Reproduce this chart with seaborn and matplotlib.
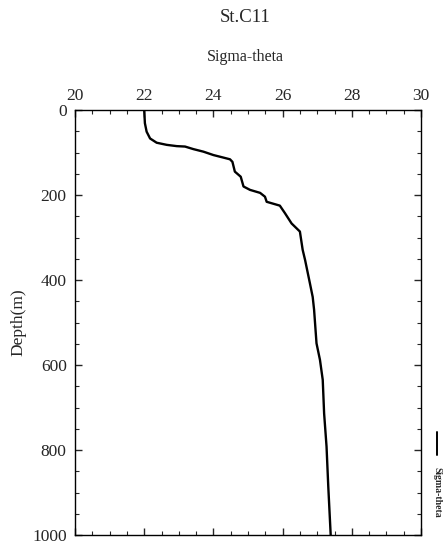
import matplotlib
matplotlib.use("Agg")
import matplotlib.pyplot as plt
import seaborn as sns
import pandas as pd
from matplotlib.ticker import MultipleLocator

depth = [0, 31, 51, 67, 77, 82, 85, 86, 92, 98, 106, 112, 116, 122, 145, 157, 180, 188, 195, 204,
         216, 225, 243, 267, 286, 329, 353, 408, 440, 470, 549, 588, 635, 714, 792, 886, 1000]
sigma = [22.0, 22.02, 22.07, 22.17, 22.36, 22.65, 22.94, 23.18, 23.42, 23.71, 24.0, 24.29, 24.48,
         24.55, 24.62, 24.79, 24.87, 25.06, 25.35, 25.49, 25.54, 25.92, 26.07, 26.26, 26.5, 26.58,
         26.65, 26.79, 26.87, 26.91, 26.98, 27.08, 27.16, 27.2, 27.27, 27.32, 27.39]
x_ticks = [20, 22, 24, 26, 28, 30]
y_ticks = [0, 200, 400, 600, 800, 1000]

sns.set_style("ticks")
plt.rcParams['font.family'] = ['Liberation Serif', 'DejaVu Serif']

df = pd.DataFrame({"Sigma-theta": sigma, "Depth": depth})

fig = plt.figure(figsize=(4.44, 5.47), dpi=100)
ax = fig.add_axes([75/444, 1-535/547, (421-75)/444, (535-110)/547])
sns.lineplot(data=df, x="Sigma-theta", y="Depth", sort=False, estimator=None,
             color="black", linewidth=1.7, ax=ax)
ax.set_xlim(20, 30)
ax.set_ylim(1000, 0)
ax.set_xticks(x_ticks)
ax.set_yticks(y_ticks)
ax.xaxis.set_minor_locator(MultipleLocator(0.5))
ax.yaxis.set_minor_locator(MultipleLocator(50))
ax.xaxis.tick_top()
ax.tick_params(axis="x", which="both", top=True, bottom=True, labeltop=True,
               labelbottom=False, direction="in", labelsize=12.5, pad=4)
ax.tick_params(axis="y", which="both", left=True, right=True, direction="in",
               labelsize=12.5, pad=6)
ax.tick_params(which="major", length=5, width=1)
ax.tick_params(which="minor", length=3, width=0.8)
for s in ax.spines.values():
    s.set_linewidth(1.0)
    s.set_color("black")
ax.set_xlabel("")
ax.set_ylabel("Depth(m)", fontsize=12.5, labelpad=4)

fig.text(245/444, 1-18/547, "St.C11", ha="center", va="center", fontsize=13.5)
fig.text(245/444, 1-57/547, "Sigma-theta", ha="center", va="center", fontsize=11.5)

# legend-like annotation on the right
fig.add_artist(plt.Line2D([437/444, 437/444], [1-432/547, 1-455/547], color="black", linewidth=1.4))
fig.text(437/444, 1-492/547, "Sigma-theta", rotation=-90, ha="center", va="center",
         fontsize=7, fontweight="bold")

fig.savefig("out.png", dpi=100)
